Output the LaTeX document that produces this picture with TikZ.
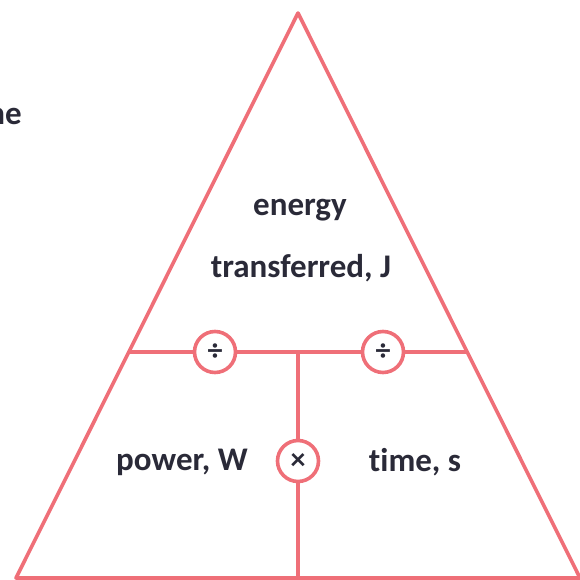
\documentclass[tikz,border=0pt]{standalone}
\usepackage{fontspec}
\setmainfont{Carlito}[Ligatures={NoCommon}]
\usetikzlibrary{calc}
\definecolor{tri}{HTML}{EF6F78}
\definecolor{ink}{HTML}{2A2A38}
\begin{document}
\begin{tikzpicture}[x=1pt,y=-1pt,
  edge/.style={draw=tri,line width=3.6pt,line join=round},
  opcirc/.style={circle,draw=tri,line width=3.6pt,fill=white,minimum size=41pt,inner sep=0pt,text=ink,font=\fontsize{30}{30}\selectfont\bfseries},
  lbl/.style={text=ink,font=\fontsize{33}{38}\selectfont\bfseries,inner sep=0pt}]
\useasboundingbox (0,0) rectangle (579,580);
\coordinate (apex) at (298,13);
\coordinate (bl) at (16,578);
\coordinate (br) at (580,578);
\coordinate (ml) at ($(bl)!0.4!(apex)$);
\coordinate (mr) at ($(br)!0.4!(apex)$);
\coordinate (mm) at (298,352);
\coordinate (bm) at (298,578);
\draw[edge] (apex) -- (bl) -- (br) -- cycle;
\draw[edge] (ml) -- (mr);
\draw[edge] (mm) -- (bm);
\node[opcirc] (d1) at (215,352) {÷};
\node[opcirc] (d2) at (383,352) {÷};
\node[opcirc] (m1) at (298,461) {×};
\node[lbl] (e1) at (300,210) {energy};
\node[lbl] (e2) at (301,268) {transferred, J};
\node[lbl] (p) at (182,462) {power, W};
\node[lbl] (t) at (415,462) {time, s};
\node[lbl,anchor=base east] (cut) at (22,125) {the};
\end{tikzpicture}
\end{document}
